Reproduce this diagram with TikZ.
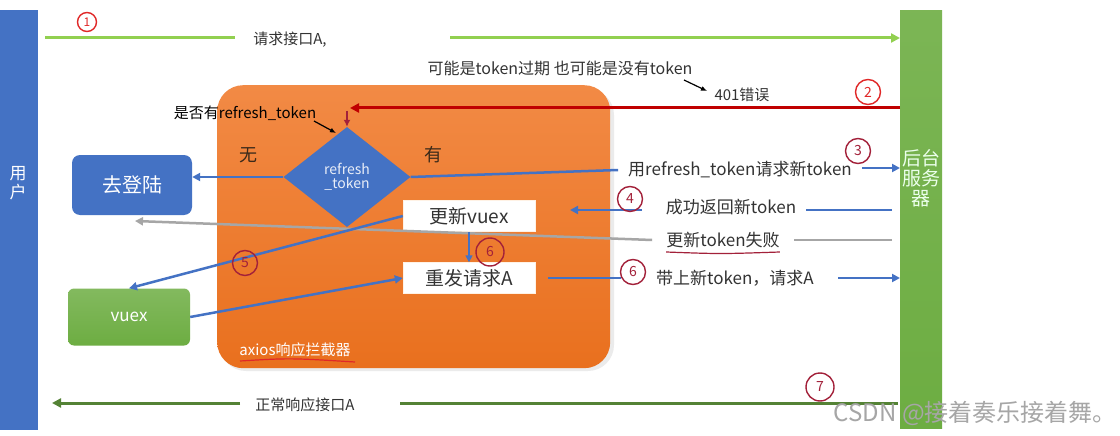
\documentclass[tikz,border=0pt]{standalone}
\usepackage{fontspec}
\setmainfont{Noto Sans CJK SC}
\usetikzlibrary{arrows.meta,shapes.geometric,calc}
\definecolor{ublue}{HTML}{4472C4}
\definecolor{sgreen}{HTML}{6DAD42}
\definecolor{lgreen}{HTML}{92D050}
\definecolor{dgreen}{HTML}{548235}
\definecolor{orngtop}{HTML}{F28A45}
\definecolor{orngbot}{HTML}{E9701E}
\definecolor{dred}{HTML}{A3213A}
\definecolor{rred}{HTML}{E02828}
\definecolor{redline}{HTML}{C00000}
\definecolor{gline}{HTML}{A6A6A6}
\definecolor{txt}{HTML}{333333}
\definecolor{brn}{HTML}{3B2A1A}
\newcommand{\fs}[1]{\fontsize{#1}{#1}\selectfont}
\tikzset{
  lbl/.style={text=txt, font=\fs{15}, inner sep=0pt},
  mlbl/.style={text=txt, font=\fs{17}, inner xsep=10pt, inner ysep=0pt},
  numc/.style={circle, draw=dred, line width=1.4pt, minimum size=25pt, inner sep=0pt, text=dred, font=\fs{14}},
  numr/.style={numc, draw=rred, text=rred},
  bline/.style={ublue, line width=2.5pt},
  barrow/.style={bline, -{Triangle[length=8pt,width=8pt]}},
  wbox/.style={fill=white, draw=white!90!orange, minimum width=132pt, minimum height=31pt, inner sep=0pt, text=txt, font=\fs{19}},
}
\begin{document}
\begin{tikzpicture}[x=1pt,y=-1pt]
\useasboundingbox (0,0) rectangle (1120,436);
\fill[white] (0,0) rectangle (1120,436);

% side bars
\node[fill=ublue, minimum width=38pt, minimum height=420pt, inner sep=0pt, anchor=north west] (user) at (0,10) {};
\node[text=white, font=\fs{17}, align=center, inner sep=0pt] (usertxt) at (18,183) {用\\[2pt]户};
\node[top color=sgreen!90!white, bottom color=sgreen, minimum width=42pt, minimum height=418pt, inner sep=0pt, anchor=north west] (server) at (900,10) {};
\node[text=white!92!green, font=\fs{19}, align=center, inner sep=0pt] (servtxt) at (921,178) {后台\\[1pt]服务\\[1pt]器};

% orange interceptor box
\fill[black, opacity=0.08, rounded corners=26pt] (220,89) rectangle (614,371);
\node[top color=orngtop, bottom color=orngbot, rounded corners=26pt, minimum width=393pt, minimum height=283pt, inner sep=0pt, anchor=north west] (axios) at (217,85) {};
\node[text=white, font=\fs{15}, inner sep=0pt] (axtxt) at (295,350) {axios响应拦截器};
\coordinate (ul1) at (240,361);
\coordinate (ul2) at (355,362);
\draw[rred, line width=1.2pt] (ul1) .. controls (290,358) .. (ul2);

% decision diamond
\node[diamond, fill=ublue, minimum width=127pt, minimum height=100pt, inner sep=0pt, text=white!88!ublue, font=\fs{14}, align=center] (dia) at (347,177) {refresh\\\_token};
\node[text=brn, font=\fs{18}, inner sep=0pt] (wu) at (248,155) {无};
\node[text=brn, font=\fs{18}, inner sep=0pt] (you) at (433,155) {有};

% boxes
\node[fill=ublue, rounded corners=8pt, minimum width=120pt, minimum height=60pt, inner sep=0pt, text=white, font=\fs{20}] (login) at (132,185) {去登陆};
\node[top color=sgreen!85!white, bottom color=sgreen, rounded corners=6pt, minimum width=122pt, minimum height=57pt, inner sep=0pt, text=white, font=\fs{17}] (vuex) at (129,317) {vuex};
\node[wbox] (uv) at (469,216) {更新vuex};
\node[wbox] (ra) at (469,278) {重发请求A};

% 1: request A
\node[lbl] (t1) at (290,40) {请求接口A,};
\coordinate (a1) at (45,38);
\coordinate (a1b) at (450,38);
\draw[lgreen, line width=3pt] (a1) -- ([xshift=-18pt]t1.west |- a1);
\draw[lgreen, line width=3pt, -{Triangle[length=9pt,width=9pt]}] (a1b) -- (server.west |- a1b);
\node[numr, minimum size=19pt, font=\fs{12}] (c1) at (87,22) {1};

% 2: 401
\node[lbl, font=\fs{16}] (t2) at (560,68) {可能是token过期 也可能是没有token};
\node[lbl] (t2b) at (742,95) {401错误};
\coordinate (p2a) at (684,80);
\coordinate (p2b) at (707,91);
\draw[black, line width=1.2pt, -{Latex[length=6pt,width=5pt]}] (p2a) -- (p2b);
\node[numr] (c2) at (868,92) {2};
\coordinate (r1) at (350,108);
\draw[redline, line width=3pt, -{Triangle[length=9pt,width=9pt]}] (server.west |- r1) -- (r1);
\coordinate (r2) at (347,111);
\draw[dred, line width=1.6pt, -{Latex[length=7pt,width=7pt]}] (r2) -- (dia.north);
\node[text=black, font=\fs{15}, inner sep=0pt] (q) at (245,113) {是否有refresh\_token};
\coordinate (p3a) at (314,121);
\coordinate (p3b) at (336,133);
\draw[black, line width=1.2pt, -{Latex[length=6pt,width=5pt]}] (p3a) -- (p3b);

% no token -> login
\draw[barrow] (dia.west) -- (login.east |- dia.west);

% 3: refresh request
\node[mlbl] (t3) at (740,170) {用refresh\_token请求新token};
\draw[bline] (dia.east) -- (t3.west);
\coordinate (a3) at (862,168);
\draw[barrow] (a3) -- (server.west |- a3);
\node[numc] (c3) at (858,151) {3};

% 4: success
\node[mlbl] (t4) at (731,207) {成功返回新token};
\coordinate (a4r) at (892,210);
\draw[bline] (a4r) -- (t4.east |- a4r);
\coordinate (a4s) at (642,210);
\coordinate (a4e) at (570,210);
\draw[barrow] (a4s) -- (a4e);
\node[numc] (c4) at (630,199) {4};

% fail -> login
\node[mlbl, inner xsep=14pt] (t5) at (723,240) {更新token失败};
\draw[dred, line width=1.2pt] ([xshift=14pt,yshift=-12pt]t5.west) .. controls (720,254) .. ([xshift=-14pt,yshift=-12pt]t5.east);
\coordinate (g1) at (892,240);
\draw[gline, line width=2.5pt] (g1) -- (t5.east |- g1);
\coordinate (g2) at (135,221);
\draw[gline, line width=2.5pt, -{Triangle[length=8pt,width=8pt]}] (t5.west) -- (g2);

% 5: update vuex
\draw[barrow] (uv.west) -- (vuex.north);
\node[numc] (c5) at (245,263) {5};
\draw[ublue, line width=1.5pt, -{Triangle[length=7pt,width=7pt]}] (uv.south) -- (ra.north);
\node[numc, minimum size=28pt] (c6a) at (490,252) {6};
\draw[barrow] (vuex.east) -- (ra.west);

% 6: resend
\node[mlbl, inner xsep=0pt] (t6) at (735,278) {带上新token，请求A};
\coordinate (c6l) at (621,278);
\draw[bline] ([xshift=13pt]ra.east) -- (c6l);
\node[numc] (c6b) at (633,272) {6};
\coordinate (a6) at (838,278);
\draw[barrow] (a6) -- (server.west |- a6);

% 7: normal response
\node[lbl] (t7) at (305,405) {正常响应接口A};
\coordinate (b1) at (898,403);
\coordinate (b2) at (400,403);
\coordinate (b3) at (240,403);
\coordinate (b4) at (52,403);
\draw[dgreen, line width=3pt] (b1) -- (b2);
\draw[dgreen, line width=3pt, -{Triangle[length=9pt,width=9pt]}] (b3) -- (b4);
\node[numc, minimum size=28pt] (c7) at (820,387) {7};

% watermark
\node[text=gray!70, font=\fs{24}, inner sep=0pt, anchor=east] (wm) at (1117,413) {CSDN @接着奏乐接着舞。};
\end{tikzpicture}
\end{document}
